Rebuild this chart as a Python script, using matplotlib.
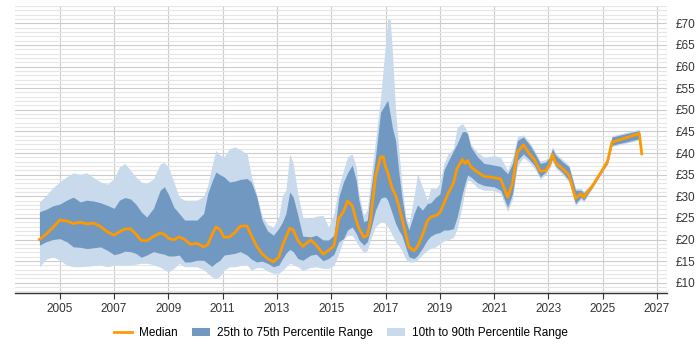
import matplotlib
matplotlib.use("Agg")
import matplotlib.pyplot as plt
import numpy as np
from matplotlib.patches import Patch
from matplotlib.lines import Line2D
from matplotlib.ticker import MultipleLocator, FuncFormatter

plt.rcParams['font.family'] = ['Liberation Sans', 'DejaVu Sans']

nan = float('nan')
dates = [2004.25, 2004.5, 2004.75, 2005.0, 2005.25, 2005.5, 2005.75, 2006.0, 2006.25, 2006.5,
         2006.75, 2007.0, 2007.2, 2007.4, 2007.6, 2007.8, 2008.0, 2008.2, 2008.45, 2008.7,
         2008.85, 2009.0, 2009.2, 2009.4, 2009.6, 2009.8, 2010.05, 2010.3, 2010.45, 2010.6,
         2010.75, 2010.9, 2011.05, 2011.25, 2011.45, 2011.65, 2011.9, 2012.05, 2012.25, 2012.45,
         2012.65, 2012.87, 2013.07, 2013.2, 2013.33, 2013.47, 2013.6, 2013.77, 2013.95, 2014.24,
         2014.45, 2014.7, 2014.9, 2015.1, 2015.28, 2015.45, 2015.6, 2015.77, 2015.92, 2016.02,
         2016.2, 2016.33, 2016.45, 2016.63, 2016.82, 2016.92, 2017.0, 2017.08, 2017.17, 2017.25,
         2017.37, 2017.5, 2017.6, 2017.74, 2017.86, 2018.05, 2018.18, 2018.36, 2018.54, 2018.67,
         2018.85, 2019.0, 2019.15, 2019.3, 2019.5, 2019.64, 2019.83, 2019.93, 2020.02, 2020.14,
         2020.39, 2020.63, 2021.0, 2021.24, 2021.5, 2021.68, 2021.86, 2022.08, 2022.3, 2022.48,
         2022.7, 2022.9, 2023.05, 2023.15, 2023.27, 2023.52, 2023.76, 2024.0, 2024.2, 2024.3,
         2024.63, 2024.94, 2025.18, 2025.34, 2026.35, 2026.44]

p10 = [13.7, 15.5, 16.0, 15.2, 14.1, 13.7, 13.7, 13.8, 14.0, 14.1,
       13.7, 14.1, 14.1, 14.1, 14.1, 14.3, 14.5, 14.5, 14.2, 13.6,
       13.0, 12.5, 13.3, 14.5, 13.7, 13.7, 13.7, 13.0, 12.2, 11.4,
       11.0, 11.5, 12.9, 13.7, 13.7, 14.0, 14.1, 12.9, 13.5, 13.5,
       12.7, 12.2, 12.2, 12.8, 13.7, 14.5, 14.2, 13.7, 12.9, 13.5,
       13.7, 13.3, 13.3, 14.0, 16.8, 19.9, 21.0, 21.0, 19.5, 18.5,
       17.0, 17.5, 20.0, 23.0, 24.0, 24.0, 23.7, 23.0, 22.0, 21.0,
       19.5, 18.5, 17.5, 15.5, 14.8, 14.8, 15.3, 16.5, 17.5, 18.0,
       18.3, 19.0, 19.7, 19.9, 20.5, 22.5, 28.0, 31.5, 33.7, 33.5,
       32.0, 31.4, 31.4, 30.6, 26.4, 29.5, 37.0, 39.0, 37.8, 36.5,
       34.0, 35.0, 36.5, 38.2, 36.5, 35.0, 33.2, 27.8, 29.3, 28.7,
       31.9, 35.1, 37.4, 41.5, 43.0, nan]
p25 = [18.7, 19.5, 20.0, 20.2, 19.5, 18.3, 18.2, 17.9, 18.1, 18.3,
       17.5, 16.5, 16.8, 17.3, 17.2, 16.8, 15.9, 16.4, 17.2, 16.8,
       16.6, 16.2, 16.2, 16.4, 14.8, 14.8, 15.2, 15.2, 14.5, 13.8,
       14.6, 15.2, 16.4, 16.6, 16.8, 17.2, 16.4, 15.5, 14.8, 15.0,
       14.5, 13.7, 14.1, 15.5, 16.8, 17.7, 17.2, 15.6, 15.2, 16.4,
       16.6, 15.1, 15.6, 16.6, 19.5, 20.2, 22.2, 22.9, 21.4, 19.9,
       18.7, 19.5, 22.2, 26.8, 29.5, 29.8, 29.8, 29.1, 27.5, 26.0,
       23.7, 22.0, 21.0, 18.3, 16.0, 15.6, 16.3, 18.0, 19.9, 20.8,
       21.4, 21.6, 22.2, 22.2, 22.5, 25.2, 30.6, 33.0, 34.9, 34.5,
       33.1, 32.5, 32.2, 31.4, 27.5, 30.6, 38.3, 39.8, 38.5, 37.2,
       34.5, 35.6, 37.0, 38.7, 37.0, 35.5, 33.7, 28.3, 29.8, 29.1,
       32.2, 35.3, 37.6, 41.8, 43.3, nan]
median = [20.0, 21.3, 22.8, 24.5, 24.3, 23.7, 24.0, 23.6, 23.8, 23.0,
          21.8, 21.0, 21.8, 22.4, 22.5, 21.3, 19.8, 19.7, 20.7, 21.5,
          21.2, 20.3, 19.9, 20.6, 20.0, 18.9, 19.1, 18.3, 18.8, 21.0,
          22.9, 22.3, 20.5, 20.6, 21.6, 23.1, 23.1, 21.0, 18.5, 16.7,
          15.6, 14.8, 16.0, 18.5, 20.5, 22.6, 22.2, 19.8, 18.4, 19.9,
          18.7, 16.6, 17.5, 18.5, 24.9, 26.4, 28.9, 27.9, 24.5, 22.6,
          20.5, 21.0, 24.5, 34.5, 39.1, 39.1, 36.8, 35.6, 33.5, 31.8,
          30.2, 27.5, 25.0, 21.4, 18.3, 17.4, 18.4, 21.0, 24.3, 25.2,
          25.5, 26.2, 28.3, 30.6, 33.0, 36.5, 38.5, 37.6, 38.3, 36.8,
          35.6, 34.6, 34.3, 34.0, 29.8, 33.0, 40.2, 41.9, 39.8, 38.5,
          35.8, 35.9, 37.4, 39.7, 37.7, 36.4, 34.9, 29.5, 30.6, 29.8,
          32.5, 35.6, 38.1, 42.5, 44.5, 39.8]
p75 = [26.4, 27.0, 27.8, 28.2, 29.1, 29.8, 28.7, 29.1, 28.9, 28.5,
       27.9, 27.2, 29.1, 29.7, 29.4, 28.2, 26.4, 25.2, 27.2, 31.4,
       32.2, 30.5, 27.5, 26.0, 24.5, 24.5, 24.5, 26.0, 30.6, 33.3,
       35.6, 35.0, 34.5, 33.3, 33.5, 33.9, 34.1, 33.3, 30.0, 24.5,
       22.0, 21.0, 22.6, 24.0, 26.0, 31.0, 29.8, 25.6, 20.8, 20.6,
       21.0, 19.9, 19.9, 21.0, 29.8, 33.3, 35.4, 37.2, 33.7, 29.1,
       24.1, 24.5, 31.0, 39.1, 49.5, 50.5, 51.4, 52.2, 49.0, 46.0,
       42.9, 35.0, 30.0, 24.5, 22.2, 26.0, 28.0, 26.8, 28.3, 28.5,
       29.8, 30.5, 36.0, 38.0, 40.5, 42.2, 44.9, 45.0, 44.5, 41.4,
       39.1, 37.6, 37.2, 36.9, 35.2, 37.6, 42.9, 43.7, 42.0, 40.2,
       37.6, 37.9, 39.0, 41.0, 39.5, 38.0, 36.8, 31.4, 31.4, 30.8,
       32.9, 36.0, 38.5, 43.7, 45.2, nan]
p90 = [28.7, 30.2, 32.0, 33.3, 34.5, 35.4, 35.1, 35.4, 34.3, 33.3,
       32.8, 34.1, 36.8, 37.6, 36.0, 34.5, 33.3, 33.0, 34.0, 37.5,
       37.8, 36.8, 33.3, 29.8, 29.1, 29.1, 29.1, 30.0, 32.5, 36.8,
       40.6, 39.6, 39.1, 41.0, 41.4, 40.8, 39.8, 34.9, 30.5, 25.5,
       23.5, 22.9, 25.2, 30.2, 31.4, 39.8, 37.6, 30.6, 25.2, 24.9,
       25.4, 25.6, 22.9, 26.0, 32.2, 36.0, 39.1, 39.8, 36.8, 30.5,
       25.5, 27.0, 33.7, 42.9, 52.9, 59.8, 65.2, 71.0, 71.0, 63.7,
       49.9, 40.0, 33.0, 25.5, 23.5, 30.0, 35.2, 32.2, 29.1, 31.9,
       31.8, 33.0, 37.5, 39.8, 41.0, 46.0, 46.8, 46.0, 44.8, 42.0,
       40.2, 39.0, 39.4, 39.0, 36.0, 39.0, 43.8, 44.2, 42.5, 40.7,
       38.2, 38.5, 39.5, 41.5, 40.0, 38.5, 37.2, 31.8, 31.8, 31.2,
       33.1, 36.2, 38.7, 44.0, 45.5, nan]

year_ticks = [2005, 2007, 2009, 2011, 2013, 2015, 2017, 2019, 2021, 2023, 2025, 2027]

light = '#c8daec'
dark = '#7198c0'
orange = '#ff9900'

fig = plt.figure(figsize=(7, 3.5), dpi=100)
ax = fig.add_axes([15/700, 1 - 292.7/350, (667-15)/700, (292.7-6)/350])

ax.fill_between(dates, p10, p90, color=light, linewidth=0, zorder=2)
ax.fill_between(dates, p25, p75, color=dark, linewidth=0, zorder=3)
ax.plot(dates, median, color=orange, linewidth=2, zorder=4)

ax.set_xlim(2003.35, 2027.37)
ax.set_ylim(7.7, 74.0)
ax.set_xticks(year_ticks)
ax.set_xticklabels([str(y) for y in year_ticks])

ax.yaxis.set_major_locator(MultipleLocator(5))
ax.yaxis.set_minor_locator(MultipleLocator(1))
ax.yaxis.set_major_formatter(FuncFormatter(lambda v, p: f'£{v:.0f}' if v >= 10 else ''))
ax.yaxis.tick_right()
ax.tick_params(axis='y', which='both', length=0, pad=6, labelsize=8.5, colors='#333333')
ax.tick_params(axis='x', which='major', length=4, color='#333333', labelsize=8.5, labelcolor='#333333')

ax.grid(True, axis='y', which='major', color='#cccccc', linewidth=0.8, zorder=0)
ax.grid(True, axis='y', which='minor', color='#e6e6e6', linewidth=0.8, zorder=0)
ax.grid(True, axis='x', which='major', color='#cccccc', linewidth=0.8, zorder=0)
ax.set_axisbelow(True)

for s in ['top', 'right', 'left']:
    ax.spines[s].set_visible(False)
ax.spines['bottom'].set_color('#333333')
ax.spines['bottom'].set_linewidth(1)

handles = [Line2D([0], [0], color=orange, linewidth=2),
           Patch(facecolor=dark, edgecolor='none'),
           Patch(facecolor=light, edgecolor='none')]
labels = ['Median', '25th to 75th Percentile Range', '10th to 90th Percentile Range']
fig.legend(handles, labels, loc='center', bbox_to_anchor=(341/700, 1 - 333/350), ncol=3,
           frameon=False, fontsize=8.5, handlelength=1.5, columnspacing=1.2, handletextpad=0.6)

fig.savefig('out.png', dpi=100)
